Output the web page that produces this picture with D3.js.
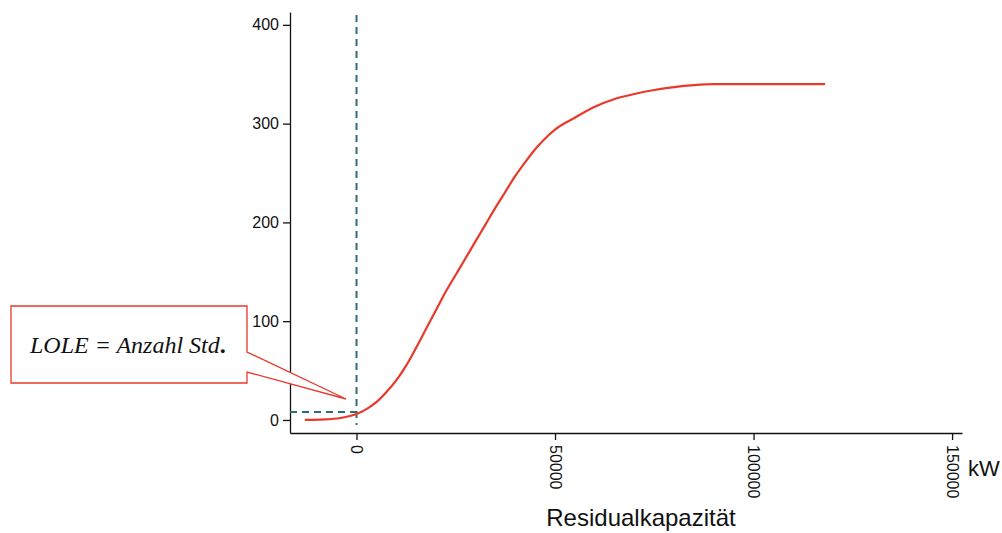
<!DOCTYPE html>
<html>
<head>
<meta charset="utf-8">
<script src="https://cdn.jsdelivr.net/npm/d3@7"></script>
<style>
  body { margin: 0; background: #fff; }
  svg { display: block; font-family: "Liberation Sans", Arial, sans-serif; }
</style>
</head>
<body>
<svg id="chart" width="1002" height="533"></svg>
<script>
// Residualkapazität (kW) vs. hours
const capacity = [-13000, -8000, -4000, 0, 2500, 5000, 7500, 10000, 12500, 15000, 17500, 20000, 22500, 25000,
  27500, 30000, 32500, 35000, 37500, 40000, 42500, 45000, 47500, 50000, 55000, 60000, 65000, 70000,
  75000, 80000, 85000, 90000, 95000, 100000, 110000, 118000];
const hours = [0, 0.5, 2, 6, 11, 18, 28, 40, 55, 73, 92, 111, 130, 147, 164, 181, 198, 215, 231, 247,
  261, 274, 285, 294, 306, 317, 325, 330, 334, 337, 339, 340, 340, 340, 340, 340];
const xTicks = [0, 50000, 100000, 150000];
const yTicks = [0, 100, 200, 300, 400];
const lole = { x: 0, y: 8 };
const calloutText = "LOLE = Anzahl Std";

const svg = d3.select('#chart');

const x = d3.scaleLinear().domain([-16750, 152500]).range([290, 962]);
const y = d3.scaleLinear().domain([-13.2, 413]).range([433, 12]);

// Axes
const xAxis = svg.append('g')
  .attr('transform', 'translate(0,433)')
  .call(d3.axisBottom(x).tickValues(xTicks).tickFormat(d3.format('d')).tickSize(7).tickSizeOuter(0));
xAxis.selectAll('text')
  .attr('x', 0).attr('y', 0).attr('dy', '0.35em')
  .attr('text-anchor', 'start')
  .attr('transform', 'translate(0,12) rotate(90)')
  .style('font-size', '16px').style('fill', '#111');

const yAxis = svg.append('g')
  .attr('transform', 'translate(290,0)')
  .call(d3.axisLeft(y).tickValues(yTicks).tickSize(7).tickSizeOuter(0));
yAxis.selectAll('text').style('font-size', '16px').style('fill', '#111').attr('x', -11);

svg.selectAll('.domain, .tick line').attr('stroke', '#111').attr('stroke-width', 1.3);

// Axis titles
svg.append('text')
  .attr('x', 641).attr('y', 526)
  .attr('text-anchor', 'middle')
  .style('font-size', '24px').style('fill', '#111')
  .text('Residualkapazität');

svg.append('text')
  .attr('x', 968).attr('y', 476)
  .style('font-size', '22px').style('fill', '#111')
  .text('kW');

// Dashed reference lines
const teal = '#2c6e78';
svg.append('line')
  .attr('x1', x(lole.x)).attr('x2', x(lole.x))
  .attr('y1', y(410)).attr('y2', y(-5))
  .attr('stroke', teal).attr('stroke-width', 2).attr('stroke-dasharray', '7,5');
svg.append('line')
  .attr('x1', x(-16750)).attr('x2', x(lole.x))
  .attr('y1', y(lole.y)).attr('y2', y(lole.y))
  .attr('stroke', teal).attr('stroke-width', 2).attr('stroke-dasharray', '7,5');

// Curve
const pts = capacity.map((c, i) => [c, hours[i]]);
svg.append('path')
  .datum(pts)
  .attr('fill', 'none')
  .attr('stroke', '#e8392b')
  .attr('stroke-width', 2.2)
  .attr('d', d3.line().x(d => x(d[0])).y(d => y(d[1])).curve(d3.curveMonotoneX));

// Callout
const callout = [[11, 306], [247, 306], [247, 352], [346, 399], [247, 372], [247, 383], [11, 383]];
svg.append('path')
  .attr('d', d3.line()(callout) + 'Z')
  .attr('fill', '#fff')
  .attr('stroke', '#e8392b')
  .attr('stroke-width', 1.3);

const label = svg.append('text')
  .attr('x', 30).attr('y', 353)
  .style('font-family', '"Liberation Serif", "DejaVu Serif", serif')
  .style('font-size', '24px')
  .style('fill', '#111');
label.append('tspan').style('font-style', 'italic').text(calloutText);
label.append('tspan').style('font-weight', 'bold').text('.');
</script>
</body>
</html>
